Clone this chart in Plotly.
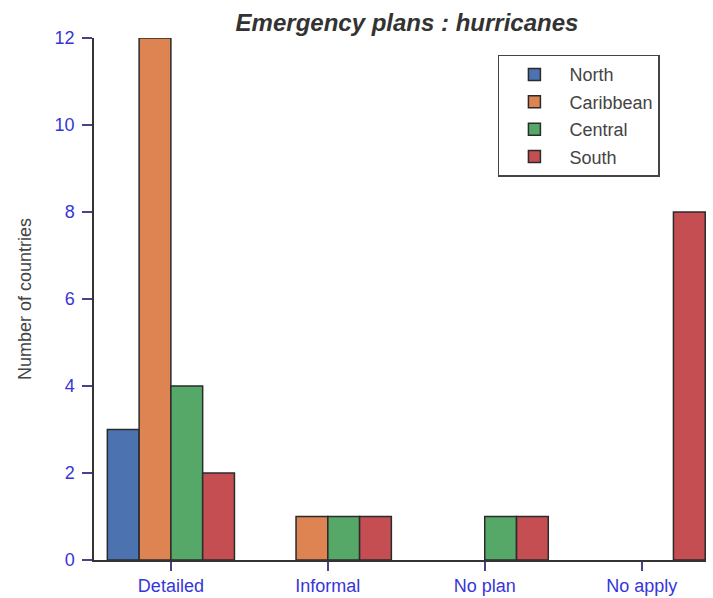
import plotly.graph_objects as go

categories = ["Detailed", "Informal", "No plan", "No apply"]
north = [3, 0, 0, 0]
caribbean = [12, 1, 0, 0]
central = [4, 1, 1, 0]
south = [2, 1, 1, 8]

series = [
    ("North", north, "#4C72B0"),
    ("Caribbean", caribbean, "#DD8452"),
    ("Central", central, "#55A868"),
    ("South", south, "#C44E52"),
]

fig = go.Figure()
for name, vals, col in series:
    fig.add_trace(go.Bar(
        x=categories, y=vals, name=name, legendgroup=name,
        marker=dict(color=col, line=dict(color="#2b2b2b",
                                         width=[1.5 if v else 0 for v in vals])),
    ))

tick_blue = "#3636d8"
fig.update_layout(
    width=713, height=598,
    margin=dict(l=94, r=7, t=38, b=38),
    paper_bgcolor="white", plot_bgcolor="white",
    barmode="group", bargap=0.19, bargroupgap=0,
    font=dict(family="Liberation Sans, Arial, sans-serif", size=17, color="#333"),
    title=dict(
        text="<b><i>Emergency plans : hurricanes</i></b>",
        x=(407 - 94) / 612, xanchor="center", xref="paper", y=0.963, yanchor="middle",
        font=dict(size=24, color="#333"),
    ),
    legend=dict(
        x=0.66, y=0.968, xanchor="left", yanchor="top",
        bordercolor="#444", borderwidth=1.5, bgcolor="white",
        font=dict(size=18, color="#444"),
        tracegroupgap=1, itemwidth=60,
    ),
    showlegend=True,
)
fig.update_xaxes(
    range=[-0.49, 3.41], showline=True, linecolor="#333", linewidth=1.5,
    ticks="outside", ticklen=9, tickcolor="#44448a", tickwidth=1.5,
    tickfont=dict(color=tick_blue, size=18), showgrid=False, zeroline=False,
    automargin=False,
)
fig.update_yaxes(
    range=[0, 12], tickvals=[0, 2, 4, 6, 8, 10, 12], showline=True, linecolor="#333", linewidth=1.5,
    ticks="outside", ticklen=10, tickcolor="#44448a", tickwidth=1.5,
    tickfont=dict(color=tick_blue, size=18), showgrid=False, zeroline=False,
    ticklabelstandoff=4, automargin=False,
    title=dict(text="Number of countries", font=dict(size=18, color="#444"), standoff=18),
)

fig.write_html("out.html")
